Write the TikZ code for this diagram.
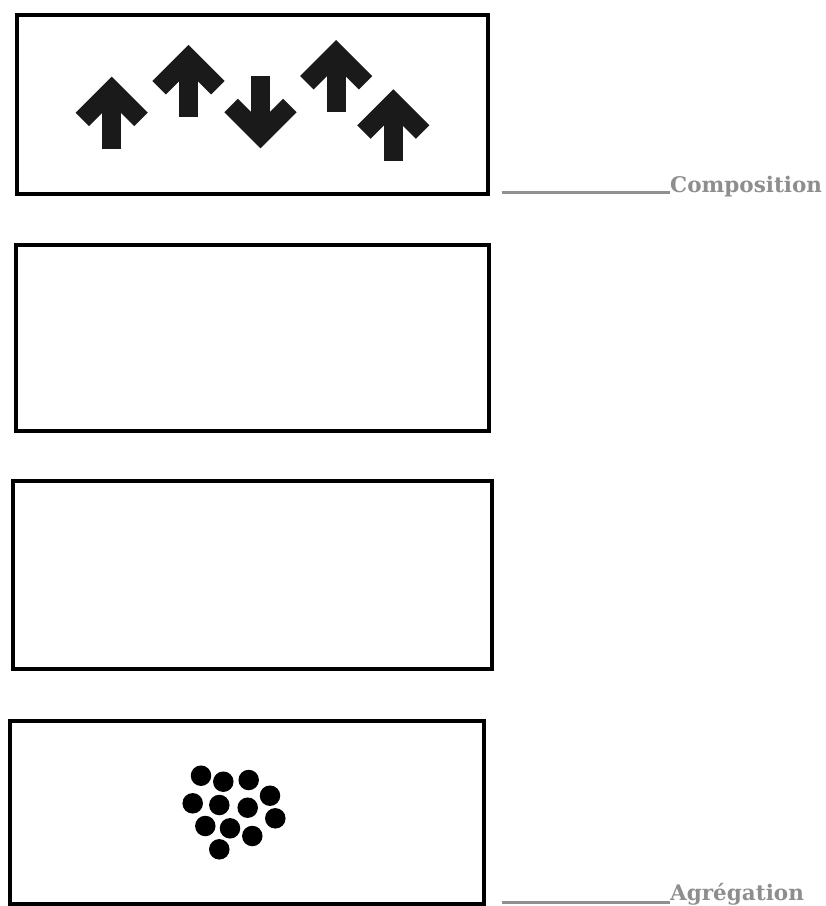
\documentclass[tikz,border=0pt]{standalone}
\usepackage{fontspec}
\setmainfont{DejaVu Serif}
\definecolor{ink}{HTML}{1A1A1A}
\definecolor{lblgray}{HTML}{8E8E8E}
\definecolor{linegray}{HTML}{909090}
\begin{document}
\begin{tikzpicture}[x=1pt,y=-1pt,
  frame/.style={draw=black, line width=4pt, inner sep=0pt, fill=none},
  lbltext/.style={text=lblgray, anchor=base west, inner sep=0pt, font=\fontsize{21.5}{25}\selectfont\bfseries},
  lblline/.style={draw=linegray, line width=2.5pt},
  dot/.style={circle, fill=black, inner sep=0pt, minimum size=20.5pt},
  arrowglyph/.pic={
    \draw[ink, line width=19pt, line join=miter, miter limit=10]
      (-29.34,42.74) -- (0,13.4) -- (29.34,42.74);
    \fill[ink] (-9.5,13.4) rectangle (9.5,72);
  }]
\clip (0,0) rectangle (826,906);
% frames
\node[frame, minimum width=471.5pt, minimum height=178.5pt] (b1) at (252.25,104.25) {};
\node[frame, minimum width=473.5pt, minimum height=185.5pt] (b2) at (252.25,337.75) {};
\node[frame, minimum width=479pt, minimum height=188pt] (b3) at (252.5,575) {};
\node[frame, minimum width=473.5pt, minimum height=183pt] (b4) at (246.75,812.5) {};
% arrows
\pic at (111.7,76.7) {arrowglyph};
\pic at (188.5,45) {arrowglyph};
\pic[rotate=180] at (260.5,148.3) {arrowglyph};
\pic at (336.2,40) {arrowglyph};
\pic at (393.3,89.3) {arrowglyph};
% dots
\node[dot] (d1) at (201,775.7) {};
\node[dot] (d2) at (223.3,781.7) {};
\node[dot] (d3) at (248.7,780) {};
\node[dot] (d4) at (270,795.7) {};
\node[dot] (d5) at (192.7,803.3) {};
\node[dot] (d6) at (219.3,805) {};
\node[dot] (d7) at (247.7,807.7) {};
\node[dot] (d8) at (275.3,818.3) {};
\node[dot] (d9) at (205.3,826) {};
\node[dot] (d10) at (230,828.3) {};
\node[dot] (d11) at (252.3,836) {};
\node[dot] (d12) at (219.3,849.3) {};
% labels
\node[lbltext] (comp) at (670,192.5) {Composition};
\coordinate (c1) at (501.7,192.5);
\draw[lblline] (c1) -- (comp.base west);
\node[lbltext] (agr) at (670,900.5) {Agrégation};
\coordinate (c2) at (501.7,902.5);
\draw[lblline] (c2) -- (c2 -| agr.west);
\end{tikzpicture}
\end{document}
